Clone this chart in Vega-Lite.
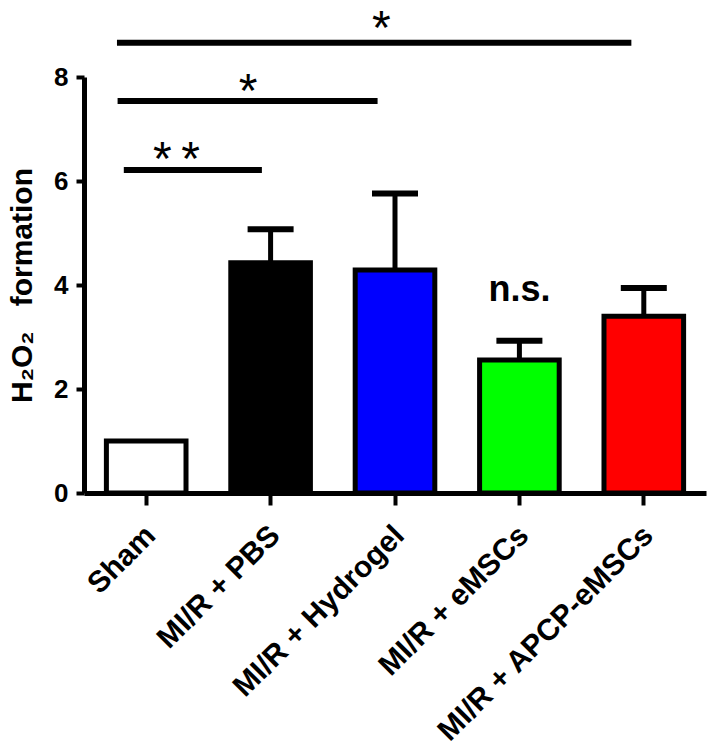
{
  "$schema": "https://vega.github.io/schema/vega-lite/v6.json",
  "width": 622,
  "height": 416,
  "autosize": {"type": "none"},
  "padding": {"left": 84, "top": 77, "right": 3, "bottom": 259},
  "background": "white",
  "config": {
    "view": {"stroke": null},
    "font": "Liberation Sans",
    "axis": {"grid": false, "domainColor": "black", "tickColor": "black", "labelColor": "black", "titleColor": "black"}
  },
  "datasets": {
    "groups": [
      {"group": "Sham", "mean": 1.0, "upper": null},
      {"group": "MI/R + PBS", "mean": 4.43, "upper": 5.07},
      {"group": "MI/R + Hydrogel", "mean": 4.29, "upper": 5.76},
      {"group": "MI/R + eMSCs", "mean": 2.56, "upper": 2.93},
      {"group": "MI/R + APCP-eMSCs", "mean": 3.40, "upper": 3.94}
    ],
    "sig": [
      {"from": 0.265, "to": 4.40, "level": 8.66},
      {"from": 0.27, "to": 2.36, "level": 7.54},
      {"from": 0.32, "to": 1.43, "level": 6.21}
    ],
    "marks": [
      {"pos": 2.39, "level": 8.644, "label": "*"},
      {"pos": 1.32, "level": 7.42, "label": "*"},
      {"pos": 0.744, "level": 6.11, "label": "*\u2009*"}
    ],
    "ns": [
      {"pos": 3.5, "level": 3.70, "label": "n.s."}
    ]
  },
  "layer": [
    {
      "data": {"name": "groups"},
      "encoding": {
        "x": {
          "field": "group", "type": "nominal", "sort": null,
          "scale": {
            "domain": ["Sham", "MI/R + PBS", "MI/R + Hydrogel", "MI/R + eMSCs", "MI/R + APCP-eMSCs"],
            "paddingInner": 0.36, "paddingOuter": 0.18
          },
          "axis": {
            "title": null, "labelAngle": -45, "labelFontSize": 30, "labelFontWeight": "bold",
            "tickSize": 12, "tickWidth": 4, "domainWidth": 5, "labelPadding": 15, "labelOffset": -6, "labelLimit": 400
          }
        }
      },
      "layer": [
        {
          "transform": [{"filter": "datum.upper != null"}],
          "mark": {"type": "rule", "color": "black", "strokeWidth": 5},
          "encoding": {
            "y": {"field": "mean", "type": "quantitative"},
            "y2": {"field": "upper"}
          }
        },
        {
          "mark": {"type": "bar", "stroke": "black", "strokeWidth": 5},
          "encoding": {
            "y": {
              "field": "mean", "type": "quantitative",
              "scale": {"domain": [0, 8], "nice": false},
              "axis": {
                "title": "H₂O₂\u00a0\u00a0\u00a0formation", "titleFontSize": 30, "titleFontWeight": "bold", "titlePadding": 16,
                "values": [0, 2, 4, 6, 8], "labelFontSize": 26, "labelFontWeight": "bold",
                "tickSize": 8, "tickWidth": 4, "domainWidth": 5, "labelPadding": 8
              }
            },
            "fill": {
              "field": "group", "type": "nominal", "legend": null,
              "scale": {
                "domain": ["Sham", "MI/R + PBS", "MI/R + Hydrogel", "MI/R + eMSCs", "MI/R + APCP-eMSCs"],
                "range": ["#ffffff", "#000000", "#0000ff", "#00ff00", "#ff0000"]
              }
            }
          }
        },
        {
          "transform": [{"filter": "datum.upper != null"}],
          "mark": {"type": "tick", "color": "black", "size": 46, "thickness": 6, "opacity": 1},
          "encoding": {
            "y": {"field": "upper", "type": "quantitative"}
          }
        }
      ]
    },
    {
      "layer": [
        {
          "data": {"name": "sig"},
          "mark": {"type": "rule", "color": "black", "strokeWidth": 6},
          "encoding": {
            "x": {"field": "from", "type": "quantitative", "scale": {"domain": [0, 5], "nice": false, "zero": false}, "axis": null},
            "x2": {"field": "to"},
            "y": {"field": "level", "type": "quantitative"}
          }
        },
        {
          "data": {"name": "marks"},
          "mark": {"type": "text", "fontSize": 48, "baseline": "alphabetic", "align": "center", "color": "black"},
          "encoding": {
            "x": {"field": "pos", "type": "quantitative", "scale": {"domain": [0, 5], "nice": false, "zero": false}, "axis": null},
            "y": {"field": "level", "type": "quantitative"},
            "text": {"field": "label"}
          }
        },
        {
          "data": {"name": "ns"},
          "mark": {"type": "text", "fontSize": 36, "fontWeight": "bold", "baseline": "alphabetic", "align": "center", "color": "black"},
          "encoding": {
            "x": {"field": "pos", "type": "quantitative", "scale": {"domain": [0, 5], "nice": false, "zero": false}, "axis": null},
            "y": {"field": "level", "type": "quantitative"},
            "text": {"field": "label"}
          }
        }
      ]
    }
  ],
  "resolve": {"scale": {"x": "independent"}}
}
